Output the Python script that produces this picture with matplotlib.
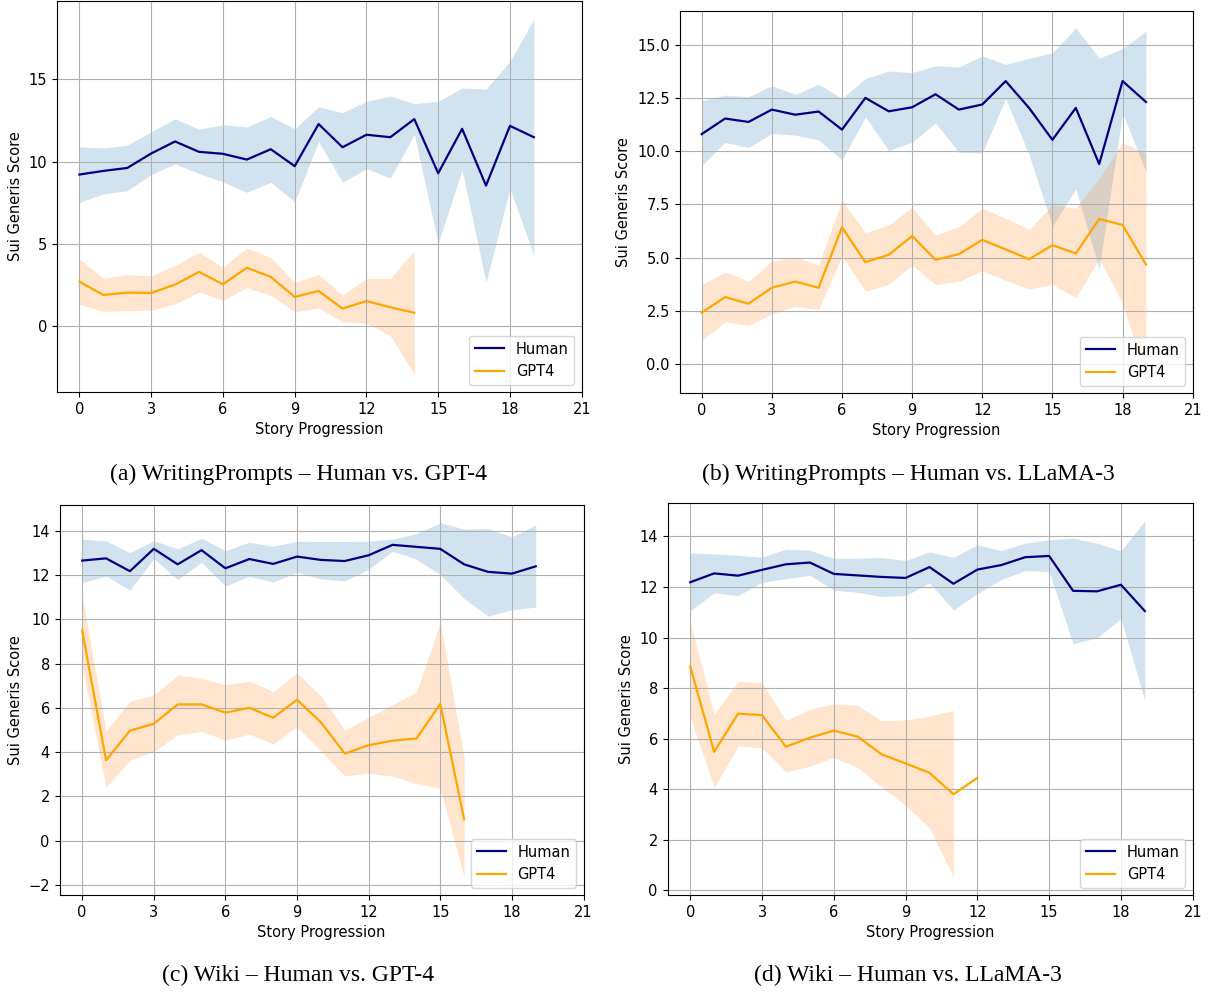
import numpy as np
import matplotlib.pyplot as plt
from matplotlib.ticker import MultipleLocator

# ---- data ----
# (a) WritingPrompts, Human vs GPT-4
a_human = [9.21, 9.43, 9.61, 10.49, 11.22, 10.59, 10.47, 10.12, 10.75, 9.72,
           12.28, 10.87, 11.63, 11.48, 12.58, 9.29, 11.99, 8.54, 12.17, 11.48]
a_human_hi = [10.89, 10.83, 11.0, 11.81, 12.6, 11.97, 12.24, 12.11, 12.74, 11.99,
              13.33, 12.97, 13.66, 13.98, 13.52, 13.66, 14.47, 14.41, 16.08, 18.68]
a_human_lo = [7.52, 8.03, 8.23, 9.21, 9.86, 9.27, 8.76, 8.13, 8.74, 7.56,
              11.22, 8.74, 9.57, 9.0, 11.65, 5.04, 9.49, 2.66, 8.35, 4.29]
a_gpt = [2.70, 1.89, 2.03, 2.01, 2.52, 3.29, 2.54, 3.54, 2.99, 1.77,
         2.13, 1.06, 1.52, 1.14, 0.81]
a_gpt_hi = [4.07, 2.91, 3.13, 3.05, 3.68, 4.49, 3.58, 4.74, 4.17, 2.66,
            3.13, 1.89, 2.89, 2.89, 4.59]
a_gpt_lo = [1.32, 0.89, 0.93, 0.96, 1.34, 2.07, 1.57, 2.34, 1.85, 0.87,
            1.10, 0.26, 0.18, -0.59, -2.93]

# (b) WritingPrompts, Human vs LLaMA-3
b_human = [10.80, 11.53, 11.37, 11.95, 11.71, 11.86, 11.01, 12.5, 11.87, 12.06,
           12.67, 11.95, 12.19, 13.29, 12.03, 10.53, 12.03, 9.39, 13.29, 12.31]
b_human_hi = [12.37, 12.63, 12.56, 13.07, 12.67, 13.14, 12.48, 13.41, 13.76, 13.69,
              14.01, 13.96, 14.47, 14.07, 14.36, 14.62, 15.79, 14.37, 14.81, 15.64]
b_human_lo = [9.32, 10.41, 10.16, 10.83, 10.75, 10.53, 9.58, 11.60, 10.02, 10.42,
              11.32, 9.94, 9.91, 12.47, 9.83, 6.48, 8.22, 4.48, 11.79, 9.04]
b_gpt = [2.41, 3.14, 2.83, 3.58, 3.87, 3.58, 6.42, 4.78, 5.13, 6.01,
         4.89, 5.16, 5.83, 5.38, 4.92, 5.58, 5.19, 6.81, 6.53, 4.67]
b_gpt_hi = [3.74, 4.32, 3.88, 4.83, 5.03, 4.64, 7.70, 6.16, 6.53, 7.36,
            6.05, 6.45, 7.31, 6.84, 6.32, 7.47, 7.31, 8.73, 10.38, 9.91]
b_gpt_lo = [1.10, 1.97, 1.81, 2.36, 2.70, 2.55, 5.06, 3.41, 3.74, 4.64,
            3.73, 3.88, 4.37, 3.93, 3.52, 3.74, 3.11, 4.95, 2.83, -0.55]

# (c) Wiki, Human vs GPT-4
c_human = [12.66, 12.76, 12.18, 13.19, 12.49, 13.13, 12.31, 12.73, 12.51, 12.84,
           12.69, 12.64, 12.90, 13.37, 13.28, 13.19, 12.49, 12.15, 12.07, 12.40]
c_human_hi = [13.63, 13.55, 13.02, 13.56, 13.19, 13.67, 13.11, 13.49, 13.31, 13.53,
              13.52, 13.52, 13.53, 13.64, 13.87, 14.37, 14.08, 14.11, 13.73, 14.27]
c_human_lo = [11.66, 11.96, 11.33, 12.75, 11.80, 12.58, 11.51, 11.95, 11.69, 12.13,
              11.83, 11.74, 12.27, 13.08, 12.72, 12.02, 10.94, 10.15, 10.44, 10.56]
c_gpt = [9.50, 3.64, 4.97, 5.29, 6.16, 6.16, 5.79, 6.01, 5.56, 6.37,
         5.35, 3.94, 4.32, 4.52, 4.62, 6.18, 0.97]
c_gpt_hi = [11.09, 4.97, 6.30, 6.59, 7.48, 7.34, 7.05, 7.21, 6.74, 7.58,
            6.53, 5.0, 5.57, 6.15, 6.71, 9.88, 3.76]
c_gpt_lo = [7.92, 2.40, 3.64, 4.03, 4.79, 4.94, 4.55, 4.82, 4.37, 5.15,
            4.06, 2.93, 3.05, 2.92, 2.58, 2.37, -1.65]

# (d) Wiki, Human vs LLaMA-3
d_human = [12.19, 12.54, 12.45, 12.68, 12.90, 12.97, 12.52, 12.46, 12.40, 12.36,
           12.79, 12.13, 12.69, 12.87, 13.18, 13.23, 11.85, 11.83, 12.09, 11.05]
d_human_hi = [13.35, 13.31, 13.26, 13.18, 13.50, 13.46, 13.14, 13.14, 13.17, 13.05,
              13.39, 13.17, 13.67, 13.44, 13.74, 13.87, 13.93, 13.74, 13.43, 14.62]
d_human_lo = [11.06, 11.77, 11.66, 12.19, 12.33, 12.46, 11.88, 11.79, 11.62, 11.66,
              12.17, 11.09, 11.74, 12.30, 12.65, 12.61, 9.76, 9.99, 10.75, 7.51]
d_gpt = [8.86, 5.48, 6.99, 6.93, 5.68, 6.04, 6.32, 6.08, 5.38, 5.02,
         4.65, 3.80, 4.45]
d_gpt_hi = [10.62, 6.98, 8.26, 8.21, 6.72, 7.17, 7.38, 7.31, 6.72, 6.74,
            6.89, 7.11]
d_gpt_lo = [6.85, 4.07, 5.71, 5.64, 4.69, 4.91, 5.26, 4.86, 4.09, 3.36,
            2.48, 0.52]

panels = [
    ("(a) WritingPrompts – Human vs. GPT-4", a_human, a_human_lo, a_human_hi, a_gpt, a_gpt_lo, a_gpt_hi),
    ("(b) WritingPrompts – Human vs. LLaMA-3", b_human, b_human_lo, b_human_hi, b_gpt, b_gpt_lo, b_gpt_hi),
    ("(c) Wiki – Human vs. GPT-4", c_human, c_human_lo, c_human_hi, c_gpt, c_gpt_lo, c_gpt_hi),
    ("(d) Wiki – Human vs. LLaMA-3", d_human, d_human_lo, d_human_hi, d_gpt, d_gpt_lo, d_gpt_hi),
]
ystep = [5, 2.5, 2, 2]

W, H = 1210, 992
# axes boxes in pixels: left, top, right, bottom
boxes = [(56.7, 1, 581.7, 392), (679.5, 10.5, 1192.7, 393),
         (59.5, 505, 583.5, 895), (667.5, 503, 1192.7, 895)]
cap_pos = [(299, 474), (908, 474), (298, 975), (908, 975)]

plt.rcParams['font.size'] = 10.5
plt.rcParams['lines.linewidth'] = 1.6
fig = plt.figure(figsize=(W / 100, H / 100), dpi=100)

for (cap, hm, hlo, hhi, gm, glo, ghi), (l, t, r, b), (cx, cy), st in zip(panels, boxes, cap_pos, ystep):
    ax = fig.add_axes([l / W, 1 - b / H, (r - l) / W, (b - t) / H])
    xh = np.arange(len(hm))
    ax.plot(xh, hm, color='navy', label='Human')
    ax.fill_between(np.arange(len(hlo)), hlo, hhi, color='tab:blue', alpha=0.2, lw=0)
    xg = np.arange(len(gm))
    ax.plot(xg, gm, color='orange', label='GPT4')
    ax.fill_between(np.arange(len(glo)), glo, ghi, color='tab:orange', alpha=0.2, lw=0)
    ax.set_xticks(range(0, 22, 3))
    ax.yaxis.set_major_locator(MultipleLocator(st))
    ax.grid(True)
    ax.set_xlabel('Story Progression')
    ax.set_ylabel('Sui Generis Score')
    ax.legend(loc='lower right')
    fig.text(cx / W, 1 - cy / H, cap, ha='center', va='center',
             family='Liberation Serif', fontsize=17)

fig.savefig('out.png', dpi=100)
